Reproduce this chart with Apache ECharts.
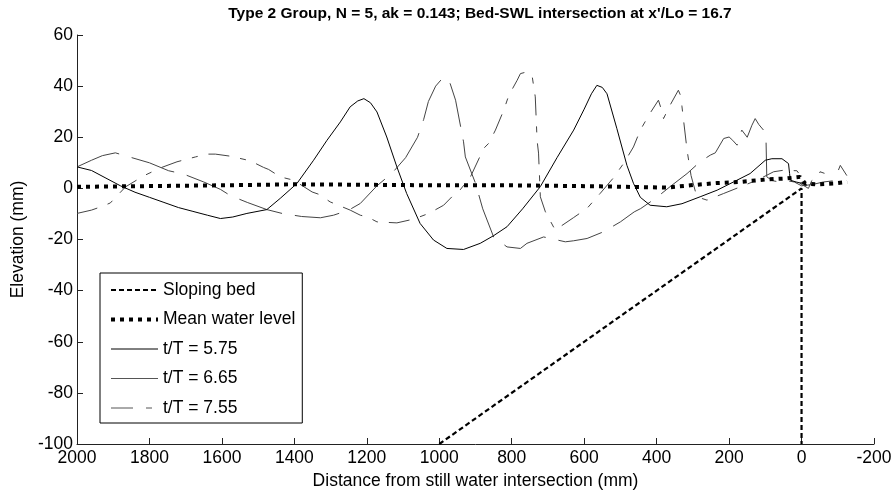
<!DOCTYPE html>
<html>
<head>
<meta charset="utf-8">
<script src="https://cdn.jsdelivr.net/npm/echarts@6/dist/echarts.min.js"></script>
<style>
html,body{margin:0;padding:0;background:#fff;}
#chart{width:892px;height:493px;}
</style>
</head>
<body>
<div id="chart"></div>
<script>
// ---- data ----
var titleText = "Type 2 Group, N = 5, ak = 0.143; Bed-SWL intersection at x'/Lo = 16.7";
var xTitle = "Distance from still water intersection (mm)";
var yTitle = "Elevation (mm)";
var seriesNames = ["Sloping bed", "Mean water level", "t/T = 5.75", "t/T = 6.65", "t/T = 7.55"];

var bedX = [1000, 0, 0];
var bedY = [-100, 0, -100];

var mwlX = [2000, 1800, 1600, 1400, 1200, 1000, 800, 556, 372, 307, 233, 169, 142, 96, 40, 4, -10, -42, -88, -126];
var mwlY = [0.6, 0.9, 1.2, 1.6, 1.4, 1.2, 1.2, 0.8, 0.3, 1.2, 2.1, 2.5, 2.9, 3.5, 3.9, 4.5, 1.9, 1.6, 1.9, 2.5];

var t575X = [2000,1960,1920,1880,1840,1800,1760,1720,1680,1640,1604,1570,1531,1476,1439,1393,1347,1310,1273,1246,1225,1208,1190,1172,1145,1117,1090,1053,1016,979,933,887,850,813,770,721,675,629,600,580,565,550,537,510,482,464,445,418,372,330,280,233,188,142,100,82,54,36,33,31,15,0,-15];
var t575Y = [8.4,7,4,1,-1.5,-3.5,-5.5,-7.5,-9,-10.5,-11.8,-11.2,-9.8,-8.3,-3.9,1.9,11,18.8,26,31.9,34.2,35.1,33.5,29.9,20.1,8.4,-2,-13.7,-20.2,-23.5,-23.9,-21.5,-18.5,-15,-8,0.7,12,22.8,31,37,40.3,39.5,37,23.5,9,2,-3.5,-6.6,-7.2,-6,-3.3,-0.7,2.5,5.8,11,11.6,11.6,9.7,5.8,3.2,2.5,2,1.3];

var t665X = [2000,1960,1930,1894,1858,1800,1747,1706,1650,1604,1577,1530,1476,1434,1380,1328,1292,1250,1218,1172,1130,1093,1060,1043,1030,1010,988,970,955,933,928,900,880,850,813,776,758,712,652,629,592,547,500,462,444,403,360,316,280,252,238,215,200,190,178,165,150,137,128,118,105,98,96,80,60,40,20,0,-30,-60,-90,-107,-125];
var t665Y = [8.4,11,12.8,13.9,12.4,10,6.9,5.6,2.5,-0.4,-2.8,-5.5,-8.3,-9.8,-11,-11.5,-10.5,-8.5,-5.9,1,6,12,20,27,34,40,43.6,41,34.5,18.2,12.3,2,-8,-19,-22.9,-23.5,-21.5,-19,-20.9,-20.5,-19.6,-17,-13.1,-9.2,-7.9,-3.9,1,5.8,10.4,13,13.9,19.5,20.1,18.8,16.9,22.8,20,24.7,27.3,25,22.8,18.8,4.5,3,2.5,3,2.5,1,1.5,2.5,3,9,5];

var t755X = [2000,1960,1930,1908,1866,1816,1770,1724,1673,1641,1618,1577,1522,1485,1471,1439,1402,1351,1333,1301,1246,1218,1199,1172,1117,1070,1029,988,961,947,914,877,863,845,822,808,785,776,760,744,735,730,726,721,707,680,675,630,592,556,520,490,464,445,420,395,385,381,365,340,333,330,316,305,289,261,215,169,123,77,49.5,12.7,-5.5,3.7,-19,-28,-46,-51,-65,-74,-83];
var t755Y = [-9.8,-8.5,-7,-5.7,0.6,4.9,8,10.4,12.3,13.4,13.4,12.6,10.8,8.2,7.4,4.5,3.2,-1.4,-2.3,-5.3,-8.5,-10.5,-11.1,-13.1,-13.5,-12,-9.8,-6.6,-2.7,-1.4,4.5,15.7,17.7,22.8,30.6,36.4,42.3,44.9,45.5,44.3,35.8,18.8,13.8,-3.3,-9.2,-16.3,-15.6,-11.5,-7.8,-2,4,10,16.2,22.8,29,34.5,30,27.3,32,38.4,36,31.9,14.9,5,-3.3,-4.6,-2,0.6,3.2,6.5,7.1,6.9,3.2,1.9,0,3,4.6,6.5,5.8,7.8,7.1];

var xTicks = {min: -200, max: 2000, step: 200};
var yTicks = {min: -100, max: 60, step: 20};

function pairs(xs, ys) { return xs.map(function (x, i) { return [x, ys[i]]; }); }
function plain(v) { return String(v); }

var FONT = "'Liberation Sans', Arial, Helvetica, sans-serif";
var chart = echarts.init(document.getElementById('chart'), null, {renderer: 'canvas'});

var styles = [
  {color: '#000', width: 2.2, type: [5, 3]},
  {color: '#000', width: 4, type: [4, 5]},
  {color: '#000', width: 1, type: 'solid'},
  {color: '#444', width: 1, type: [45, 13]},
  {color: '#444', width: 1, type: [21, 11, 6, 11]}
];
var legendStyles = [
  {color: '#000', width: 2.2, type: [5, 3]},
  {color: '#000', width: 4, type: [4, 5]},
  {color: '#000', width: 1, type: 'solid'},
  {color: '#555', width: 1, type: 'solid'},
  {color: '#555', width: 1, type: [22, 13, 6, 13]}
];

var option = {
  animation: false,
  backgroundColor: '#ffffff',
  title: {
    text: titleText,
    left: 475,
    top: 1,
    textAlign: 'center',
    textStyle: {fontFamily: FONT, fontSize: 15.5, fontWeight: 'bold', color: '#000'}
  },
  grid: {left: 77, right: 18, top: 35, bottom: 49, outerBoundsMode: 'none'},
  legend: {
    orient: 'vertical',
    left: 100,
    top: 273,
    padding: [8, 7, 6, 9],
    itemGap: 11.5,
    itemWidth: 47,
    itemHeight: 14,
    borderColor: '#000',
    borderWidth: 1,
    borderRadius: 0,
    backgroundColor: '#fff',
    itemStyle: {opacity: 0, borderWidth: 0},
    textStyle: {fontFamily: FONT, fontSize: 17.5, color: '#000'},
    data: seriesNames.map(function (n, i) {
      return {name: n, itemStyle: {opacity: 0, borderWidth: 0}, lineStyle: legendStyles[i]};
    })
  },
  xAxis: {
    type: 'value',
    inverse: true,
    min: xTicks.min,
    max: xTicks.max,
    interval: xTicks.step,
    name: xTitle,
    nameLocation: 'middle',
    nameGap: 22,
    nameTextStyle: {fontFamily: FONT, fontSize: 17.5, color: '#000'},
    axisLine: {show: true, onZero: false, lineStyle: {color: '#222', width: 1}},
    axisTick: {show: true, inside: true, length: 6, lineStyle: {color: '#222'}},
    axisLabel: {fontFamily: FONT, fontSize: 17.5, color: '#000', margin: 5, formatter: plain, showMinLabel: true, showMaxLabel: true},
    splitLine: {show: false}
  },
  yAxis: {
    type: 'value',
    min: yTicks.min,
    max: yTicks.max,
    interval: yTicks.step,
    name: yTitle,
    nameLocation: 'middle',
    nameGap: 43,
    nameRotate: 90,
    nameTextStyle: {fontFamily: FONT, fontSize: 17.5, color: '#000'},
    axisLine: {show: true, onZero: false, lineStyle: {color: '#222', width: 1}},
    axisTick: {show: true, inside: true, length: 6, lineStyle: {color: '#222'}},
    axisLabel: {fontFamily: FONT, fontSize: 17.5, color: '#000', margin: 4, formatter: plain, showMinLabel: true, showMaxLabel: true},
    splitLine: {show: false}
  },
  series: [
    {
      name: seriesNames[0], type: 'line', symbol: 'none', showSymbol: false, z: 2,
      data: pairs(bedX, bedY), lineStyle: styles[0], itemStyle: {color: '#000'}
    },
    {
      name: seriesNames[1], type: 'line', symbol: 'none', showSymbol: false, z: 5,
      data: pairs(mwlX, mwlY), lineStyle: styles[1], itemStyle: {color: '#000'}
    },
    {
      name: seriesNames[2], type: 'line', symbol: 'none', showSymbol: false, z: 4,
      data: pairs(t575X, t575Y), lineStyle: styles[2], itemStyle: {color: '#000'}
    },
    {
      name: seriesNames[3], type: 'line', symbol: 'none', showSymbol: false, z: 3,
      data: pairs(t665X, t665Y), lineStyle: styles[3], itemStyle: {color: '#444'}
    },
    {
      name: seriesNames[4], type: 'line', symbol: 'none', showSymbol: false, z: 3,
      data: pairs(t755X, t755Y), lineStyle: styles[4], itemStyle: {color: '#444'}
    }
  ]
};
chart.setOption(option);
</script>
</body>
</html>
